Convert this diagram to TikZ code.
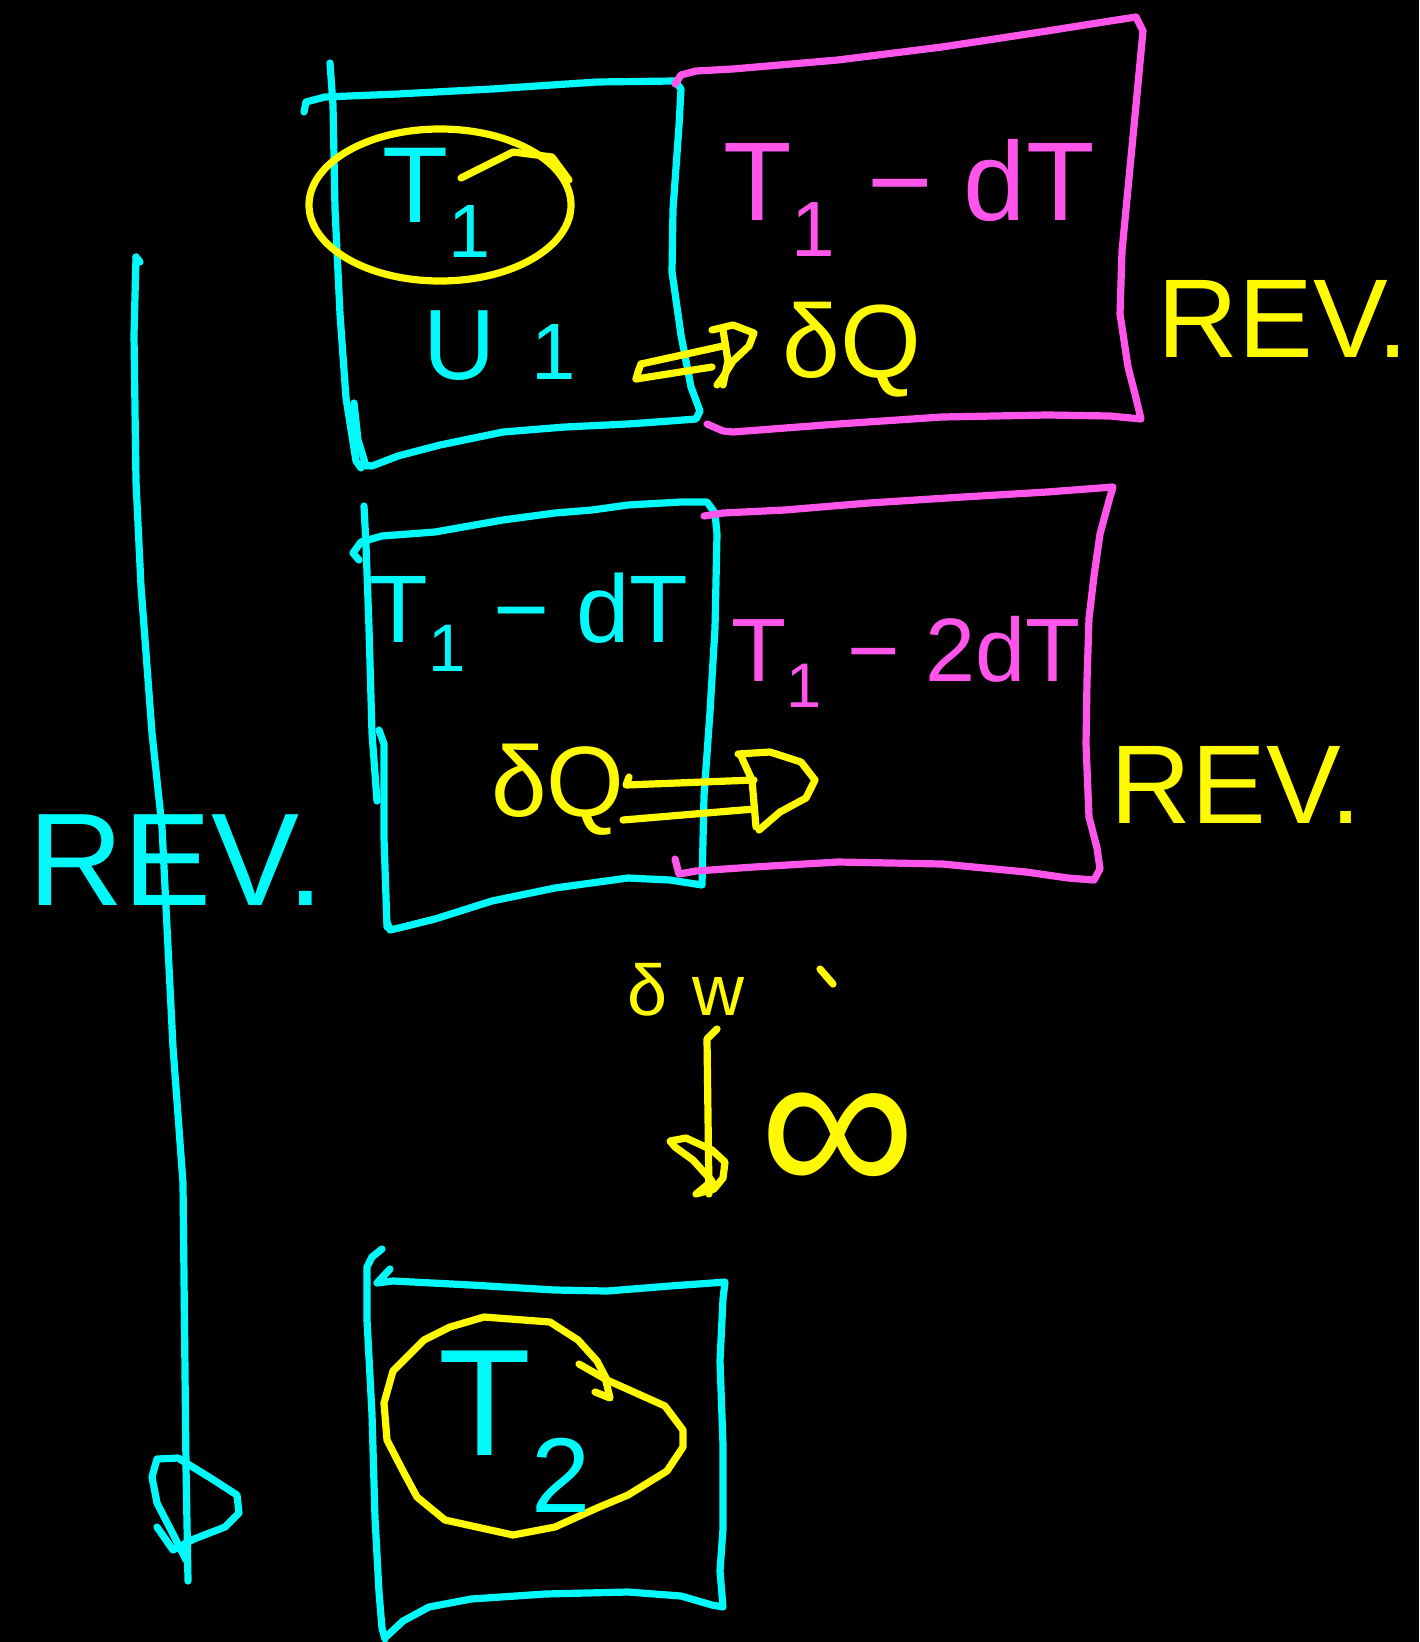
\documentclass[tikz,border=0pt]{standalone}
\usepackage{fontspec}
\setmainfont{Liberation Sans}
\usetikzlibrary{arrows.meta}
\definecolor{cy}{RGB}{0,250,250}
\definecolor{pk}{RGB}{255,85,235}
\definecolor{yl}{RGB}{255,250,0}
\begin{document}
\begin{tikzpicture}[x=0.5pt,y=-0.5pt,
  pen/.style={line width=3.6pt,line cap=round,line join=round},
  cpen/.style={pen,draw=cy},
  ppen/.style={pen,draw=pk},
  ypen/.style={pen,draw=yl},
  ctext/.style={text=cy,inner sep=0pt},
  ptext/.style={text=pk,inner sep=0pt},
  ytext/.style={text=yl,inner sep=0pt}]
\fill[black] (0,0) rectangle (1419,1642);
\useasboundingbox (0,0) rectangle (1419,1642);

% ---- top row ----
\draw[cpen] (330,63) -- (333,105) -- (335,209) -- (340,314) -- (346,398) -- (356,461) -- (361,468);
\draw[cpen] (354,403) -- (358,440) -- (366,466);
\draw[cpen] (304,112) -- (306,102) -- (325,97) -- (398,94) -- (492,89) -- (597,82) -- (675,81) -- (681,89) -- (679,126) -- (673,209) -- (672,272) -- (681,335) -- (691,387) -- (700,411) -- (696,419) -- (670,421) -- (628,424) -- (565,427) -- (503,432) -- (440,445) -- (398,456) -- (372,466) -- (361,465);
\draw[ppen] (675,84) -- (681,75) -- (696,71) -- (733,69) -- (838,60) -- (942,47) -- (1047,31) -- (1110,21) -- (1136,17) -- (1143,31) -- (1141,52) -- (1136,105) -- (1129,178) -- (1122,251) -- (1120,314) -- (1128,367) -- (1136,398) -- (1141,419) -- (1110,416) -- (1047,415) -- (942,417) -- (838,424) -- (733,432) -- (723,431) -- (707,424);
\draw[ypen] (440,205) ellipse [x radius=131, y radius=76];
\draw[ypen] (461,178) -- (513,152) -- (552,157) -- (569,180);
\node[ctext,font=\fontsize{54}{54}\selectfont] (t1) at (437,203) {T\textsubscript{1}};
\node[ptext,font=\fontsize{56}{56}\selectfont] (t1dT) at (909,198) {T\textsubscript{1} − dT};
\node[ctext,font=\fontsize{50}{50}\selectfont] (u1) at (500,346) {U\hspace{18pt}{\fontsize{40}{40}\selectfont 1}};
\node[ytext,font=\fontsize{52}{52}\selectfont] (dq1) at (852,350) {δQ};
\coordinate (a1s) at (638,372);
\coordinate (a1e) at (754,333);
\draw[ypen] (641,364) -- (723,346);
\draw[ypen] (636,379) -- (712,367);
\draw[ypen] (712,330) -- (733,325) -- (a1e) -- (749,346) -- (733,361) -- (723,377) -- (717,385);
\draw[ypen] (723,330) -- (728,361) -- (723,385);
\draw[ypen] (641,364) -- (a1s) -- (636,379);
\node[ytext,font=\fontsize{56}{56}\selectfont] (rev1) at (1283,319) {REV.};

% ---- second row ----
\draw[cpen] (364,506) -- (366,545) -- (369,628) -- (372,733) -- (377,801);
\draw[cpen] (379,730) -- (384,744) -- (384,838) -- (387,927);
\draw[cpen] (359,560) -- (353,553) -- (361,542) -- (382,536) -- (435,532) -- (503,520) -- (555,513) -- (592,510) -- (628,505) -- (681,502) -- (707,502) -- (715,513) -- (717,534) -- (715,628) -- (710,712) -- (704,796) -- (702,885) -- (670,880) -- (628,878) -- (555,888) -- (492,901) -- (435,919) -- (403,927) -- (390,930) -- (387,922);
\draw[ppen] (704,516) -- (723,513) -- (785,510) -- (869,503) -- (963,497) -- (1047,492) -- (1100,488) -- (1113,487) -- (1110,497) -- (1100,534) -- (1094,576) -- (1089,618) -- (1087,681) -- (1086,744) -- (1089,817) -- (1097,848) -- (1100,869) -- (1094,880) -- (1068,878) -- (1026,872) -- (942,864) -- (838,862) -- (754,867) -- (696,871) -- (679,874) -- (675,859);
\node[ctext,font=\fontsize{48}{48}\selectfont] (t1dT2) at (529,622) {T\textsubscript{1} − dT};
\node[ptext,font=\fontsize{45}{45}\selectfont] (t12dT) at (906,662) {T\textsubscript{1} − 2dT};
\node[ytext,font=\fontsize{50}{50}\selectfont] (dq2) at (558,790) {δQ};
\coordinate (a2s) at (623,803);
\coordinate (a2e) at (815,780);
\draw[ypen] (629,777) -- (626,785) -- (754,780);
\draw[ypen] (623,820) -- (754,809);
\draw[ypen] (738,754) -- (770,752) -- (801,762) -- (a2e) -- (806,798) -- (780,812) -- (759,830);
\draw[ypen] (741,756) -- (752,780) -- (756,827);
\node[ytext,font=\fontsize{56}{56}\selectfont] (rev2) at (1236,785) {REV.};

% ---- middle: work, repetition ----
\node[ytext,font=\fontsize{36}{36}\selectfont] (dw) at (686,990) {δ\hspace{12pt}w};
\draw[ypen] (820,969) -- (833,984);
\coordinate (dtop) at (707,1039);
\coordinate (dbot) at (709,1194);
\draw[ypen] (717,1029) -- (dtop) -- (dbot);
\draw[ypen] (670,1141) -- (686,1138) -- (712,1150) -- (725,1162) -- (723,1178) -- (714,1189) -- (696,1194) -- (712,1181) -- (693,1160) -- (675,1147) -- cycle;
\node[ytext,font=\fontsize{110}{110}\selectfont] (inf) at (838,1146) {∞};

% ---- bottom reservoir ----
\draw[cpen] (382,1249) -- (372,1257) -- (367,1267) -- (367,1320) -- (372,1414) -- (375,1518) -- (379,1592) -- (382,1628) -- (385,1639);
\draw[cpen] (390,1269) -- (377,1283) -- (393,1281) -- (471,1285) -- (555,1290) -- (607,1291) -- (670,1286) -- (712,1283) -- (725,1282) -- (723,1299) -- (720,1361) -- (723,1445) -- (723,1529) -- (720,1571) -- (723,1607) -- (712,1605) -- (681,1596) -- (628,1592) -- (545,1594) -- (471,1599) -- (429,1607) -- (403,1621) -- (387,1636);
\draw[ypen] (384,1403) -- (393,1371) -- (424,1340) -- (450,1327) -- (484,1317) -- (550,1322) -- (578,1340) -- (597,1361) -- (607,1380) -- (665,1406) -- (683,1430) -- (683,1447) -- (667,1471) -- (628,1495) -- (597,1508) -- (555,1527) -- (513,1535) -- (445,1520) -- (417,1497) -- (403,1471) -- (387,1440) -- cycle;
\draw[ypen] (579,1364) -- (607,1380);
\draw[ypen] (605,1377) -- (610,1398) -- (595,1392);
\node[ctext,font=\fontsize{76}{76}\selectfont] (t2) at (515,1432) {T\textsubscript{2}};

% ---- left reversible arrow ----
\coordinate (rtop) at (136,257);
\coordinate (rbot) at (188,1581);
\draw[cpen] (rtop) -- (134,335) -- (136,482) -- (141,586) -- (152,733) -- (162,827) -- (173,1047) -- (183,1183) -- (186,1466) -- (rbot);
\draw[cpen] (rtop) -- (140,262);
\draw[cpen] (157,1527) -- (173,1550) -- (194,1539) -- (225,1527) -- (239,1513) -- (237,1495) -- (209,1477) -- (178,1458) -- (157,1459) -- (152,1477) -- (157,1503) -- (173,1534) -- (186,1560);
\node[ctext,font=\fontsize{66}{66}\selectfont] (revl) at (176,860) {REV.};
\end{tikzpicture}
\end{document}
